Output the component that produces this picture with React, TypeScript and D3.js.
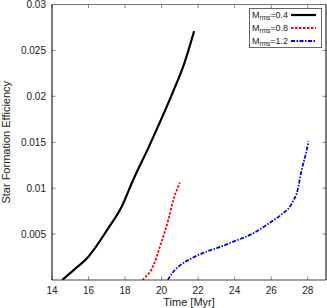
import React from "react";
import * as d3 from "d3";

const xTicks = [14, 16, 18, 20, 22, 24, 26, 28];
const yTicks = [0.005, 0.01, 0.015, 0.02, 0.025, 0.03];
const yTickLabels = ["0.005", "0.01", "0.015", "0.02", "0.025", "0.03"];

const blackT = [14.56, 15.2, 15.99, 17.08, 17.82, 18.4, 19.3, 20.64, 21.19, 21.78];
const blackY = [0, 0.0011, 0.00254, 0.00564, 0.0080, 0.0107, 0.0145, 0.02056, 0.02329, 0.0271];

const redT = [18.95, 19.15, 19.37, 19.6, 19.91, 20.15, 20.37, 20.64, 20.85, 21.0];
const redY = [0, 0.0004, 0.0009, 0.0018, 0.00364, 0.0051, 0.00655, 0.0087, 0.0099, 0.0106];

const blueT = [20.34, 20.6, 20.92, 21.65, 22.47, 23.2, 23.93, 25.03, 25.94, 26.6, 27.03, 27.2, 27.4, 27.67, 27.95, 28.04];
const blueY = [0, 0.0008, 0.00145, 0.00237, 0.0031, 0.0036, 0.00418, 0.0051, 0.00626, 0.0072, 0.0080, 0.0086, 0.00946, 0.012, 0.0142, 0.0151];

const seriesNames = ["0.4", "0.8", "1.2"];
const seriesColors = ["#000000", "#ff0000", "#0000ff"];
const seriesDash = ["none", "2.5,1.5", "4,1.5,1.5,1.5"];
const seriesWidth = [2.2, 1.8, 1.8];

export default function App() {
  const W = 327, H = 308;
  const L = 52, R = 326, T = 4.5, B = 280;
  const x = d3.scaleLinear().domain([14, 29]).range([L, R]);
  const y = d3.scaleLinear().domain([0, 0.03]).range([B, T]);
  const line = d3.line<[number, number]>().x(d => x(d[0])).y(d => y(d[1])).curve(d3.curveMonotoneX);
  const data = [
    blackT.map((t, i) => [t, blackY[i]] as [number, number]),
    redT.map((t, i) => [t, redY[i]] as [number, number]),
    blueT.map((t, i) => [t, blueY[i]] as [number, number]),
  ];
  const font = "Liberation Sans, Arial, Helvetica, sans-serif";
  const tickLen = 3.5;
  const tickCol = "#888";
  return (
    <svg width={W} height={H} style={{ position: "absolute", left: 0, top: 0, background: "#fff" }} fontFamily={font}>
      {xTicks.map(t => (
        <g key={"xt" + t}>
          <line x1={x(t)} x2={x(t)} y1={B} y2={B - tickLen} stroke={tickCol} strokeWidth={1} />
          <line x1={x(t)} x2={x(t)} y1={T} y2={T + tickLen} stroke={tickCol} strokeWidth={1} />
          <text x={x(t)} y={294} fontSize={10} textAnchor="middle" fill="#222">{t}</text>
        </g>
      ))}
      {yTicks.map((t, i) => (
        <g key={"yt" + t}>
          <line x1={L} x2={L + tickLen} y1={y(t)} y2={y(t)} stroke={tickCol} strokeWidth={1} />
          <line x1={R} x2={R - tickLen} y1={y(t)} y2={y(t)} stroke={tickCol} strokeWidth={1} />
          <text x={46} y={y(t) + 3.5} fontSize={10} textAnchor="end" fill="#222">{yTickLabels[i]}</text>
        </g>
      ))}
      <defs>
        <clipPath id="plotclip">
          <rect x={L} y={T} width={R - L} height={B - T} />
        </clipPath>
      </defs>
      <g clipPath="url(#plotclip)">
        {data.map((d, i) => (
          <path key={"s" + i} d={line(d) || ""} fill="none" stroke={seriesColors[i]} strokeWidth={seriesWidth[i]}
            strokeDasharray={seriesDash[i]} />
        ))}
      </g>
      <line x1={L} x2={R} y1={T} y2={T} stroke="#777" strokeWidth={1.2} />
      <line x1={R} x2={R} y1={T} y2={B} stroke="#222" strokeWidth={1.2} />
      <line x1={L} x2={R} y1={B} y2={B} stroke="#444" strokeWidth={1.2} />
      <line x1={L} x2={L} y1={T} y2={B} stroke="#222" strokeWidth={1.2} />
      <g>
        <rect x={249.5} y={8.5} width={72} height={39} fill="#fff" stroke="#666" strokeWidth={1} />
        {seriesNames.map((n, i) => (
          <g key={"lg" + i}>
            <text x={252} y={18 + i * 13} fontSize={9} fill="#222">
              M<tspan fontSize={6.5} dy={2}>rms</tspan><tspan dy={-2}>{"=" + n}</tspan>
            </text>
            <line x1={291} x2={316} y1={15 + i * 13} y2={15 + i * 13} stroke={seriesColors[i]}
              strokeWidth={seriesWidth[i]} strokeDasharray={seriesDash[i]} />
          </g>
        ))}
      </g>
      <text x={189} y={306} fontSize={11} textAnchor="middle" fill="#222">Time [Myr]</text>
      <text transform={`translate(10,${(T + B) / 2}) rotate(-90)`} fontSize={11} textAnchor="middle" fill="#222">Star Formation Efficiency</text>
    </svg>
  );
}
